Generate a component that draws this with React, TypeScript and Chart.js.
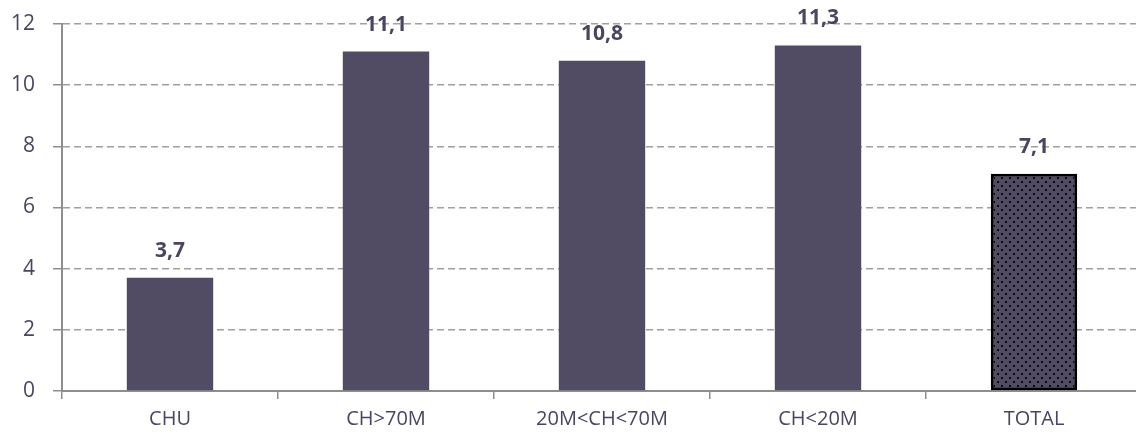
import React, { useEffect, useRef } from "react";
import { Chart, registerables } from "chart.js";

Chart.register(...registerables);

const categories = ["CHU", "CH>70M", "20M<CH<70M", "CH<20M", "TOTAL"];
const values = [3.7, 11.1, 10.8, 11.3, 7.1];
const yTicks = [0, 2, 4, 6, 8, 10, 12];

const BAR = "#514b63";
const TEXT = "#4b4560";
const GRID = "#a0a0a0";
const AXIS = "#8e8e8e";
const FONT = "'Open Sans', 'DejaVu Sans', sans-serif";

// Dotted fill for the total bar
function makeDotPattern(): CanvasPattern | string {
  const c = document.createElement("canvas");
  c.width = 8;
  c.height = 8;
  const g = c.getContext("2d");
  if (!g) return BAR;
  g.fillStyle = BAR;
  g.fillRect(0, 0, 8, 8);
  g.fillStyle = "#0a0a0a";
  g.fillRect(1, 1, 2, 2);
  g.fillRect(5, 5, 2, 2);
  return g.createPattern(c, "repeat") || BAR;
}

const valueLabels = {
  id: "valueLabels",
  afterDatasetsDraw(chart: any) {
    const ctx = chart.ctx;
    const meta = chart.getDatasetMeta(0);
    ctx.save();
    ctx.font = `bold 21px ${FONT}`;
    ctx.fillStyle = TEXT;
    ctx.textAlign = "center";
    ctx.textBaseline = "middle";
    meta.data.forEach((bar: any, i: number) => {
      ctx.fillText(values[i].toFixed(1).replace(".", ","), bar.x, bar.y - 27);
    });
    ctx.restore();
  },
};

export default function App() {
  const ref = useRef<HTMLCanvasElement | null>(null);

  useEffect(() => {
    document.body.style.margin = "0";
    document.body.style.overflow = "hidden";
    if (!ref.current) return;
    const pattern = makeDotPattern();
    const last = values.length - 1;
    const chart = new Chart(ref.current, {
      type: "bar",
      data: {
        labels: categories,
        datasets: [
          {
            data: values,
            backgroundColor: values.map((_, i) => (i === last ? pattern : BAR)),
            borderColor: values.map((_, i) => (i === last ? "#000000" : BAR)),
            borderWidth: values.map((_, i) => (i === last ? 3 : 0)),
            borderSkipped: false,
            barPercentage: 0.4,
            categoryPercentage: 1,
          },
        ],
      },
      options: {
        responsive: false,
        animation: false,
        events: [],
        layout: { padding: { top: 24, right: 0, left: 0, bottom: 0 } },
        plugins: {
          legend: { display: false },
          tooltip: { enabled: false },
        },
        scales: {
          x: {
            grid: {
              display: true,
              drawOnChartArea: false,
              offset: true,
              tickLength: 8,
              color: AXIS,
              lineWidth: 1.5,
            },
            border: { color: AXIS, width: 2 },
            ticks: {
              color: TEXT,
              font: { family: FONT, size: 20 },
              padding: 8,
            },
            afterFit(scale: any) {
              scale.height = 45;
              scale.paddingLeft = 0;
              scale.paddingRight = 0;
            },
          },
          y: {
            min: 0,
            max: 12,
            afterBuildTicks(scale: any) {
              scale.ticks = yTicks.map((v) => ({ value: v }));
            },
            grid: {
              color: GRID,
              lineWidth: 1.5,
              tickLength: 9,
              drawTicks: true,
              tickColor: AXIS,
              tickBorderDash: [],
            },
            border: { color: AXIS, width: 2, dash: [7, 4] },
            ticks: {
              color: TEXT,
              font: { family: FONT, size: 21 },
              padding: 18,
            },
            afterFit(scale: any) {
              scale.width = 62;
              scale.paddingTop = 0;
              scale.paddingBottom = 0;
            },
          },
        },
      },
      plugins: [valueLabels],
    } as any);
    return () => chart.destroy();
  }, []);

  return (
    <div style={{ position: "absolute", left: 0, top: 0 }}>
      <canvas ref={ref} width={1142} height={436} />
    </div>
  );
}
